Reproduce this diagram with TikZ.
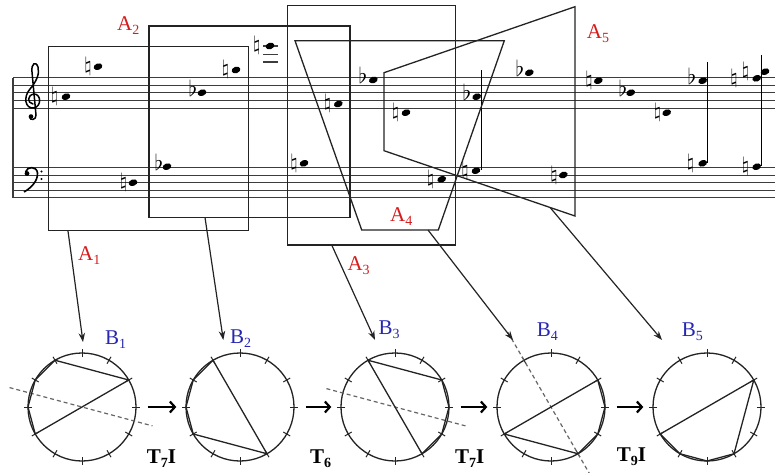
\documentclass[tikz,border=0pt]{standalone}
\usepackage{fontspec}
\usepackage{graphicx}
\setmainfont{Liberation Serif}
\usetikzlibrary{arrows.meta,calc}
\definecolor{labred}{RGB}{214,28,28}
\definecolor{labblue}{RGB}{38,38,178}
\definecolor{inkgray}{RGB}{35,35,35}
\definecolor{stafgray}{RGB}{60,60,60}
\newcommand\lsub[1]{\raisebox{-0.2em}{\fontsize{14}{14}\selectfont #1}}

\begin{document}
\begin{tikzpicture}[x=1pt, y=-1pt,
  staff/.style={stafgray, line width=1.1pt},
  frame/.style={inkgray, line width=1.3pt},
  alab/.style={text=labred, font=\fontsize{21}{21}\selectfont, inner sep=0pt, anchor=base west},
  blab/.style={text=labblue, font=\fontsize{21}{21}\selectfont, inner sep=0pt, anchor=base west},
  tlab/.style={font=\fontsize{21}{21}\selectfont\bfseries, inner sep=0pt, anchor=base west},
  ring/.style={draw=inkgray, circle, minimum size=108pt, inner sep=0pt, line width=1.3pt},
  rimtick/.style={inkgray, line width=1pt},
  chord/.style={inkgray, line width=1.3pt, line join=round},
  mirror/.style={gray!80!black, line width=1.2pt, dash pattern=on 4pt off 3pt},
  arr/.style={-{Stealth[length=9pt,width=6.5pt]}, inkgray, line width=1.2pt},
  hop/.style={-{Straight Barb[length=5pt,width=11pt]}, black, line width=2.2pt},
  nat/.style={inner sep=0pt},
  flt/.style={inner sep=0pt, anchor=base},
  stem/.style={black, line width=1pt}
]
\useasboundingbox (0,0) rectangle (775,473);

\foreach \sy in {77.7,85.3,92.9,100.5,108.1} \draw[staff] (13,\sy) -- (775,\sy);
\foreach \sy in {167.7,175.2,182.7,190.2,197.7} \draw[staff] (13,\sy) -- (775,\sy);
\draw[staff] (13,77.7) -- (13,197.7);
\foreach \ly in {46,54.3,62} \draw[staff] (263,\ly) -- (278,\ly);

\draw[line width=1.5pt, line cap=round] (33,104) .. controls (27,103) and (27,95) .. (34,94) .. controls (41,94) and (42,106) .. (34,108) .. controls (25,109) and (23,97) .. (30,89) .. controls (36,82) and (40,74) .. (38,67) .. controls (36,61) and (31,63) .. (32,72) -- (36,115) .. controls (36.5,120) and (30,121) .. (29.5,117);
\fill (31,116.5) circle[radius=2.3pt];
\fill (27,173.5) circle[radius=2.4pt];
\draw[line width=1.6pt] (25.5,172) .. controls (27,166) and (37,166) .. (37.5,173) .. controls (38,181) and (31,188) .. (24,192);
\fill (41.5,171.5) circle[radius=1.2pt];
\fill (41.5,179) circle[radius=1.2pt];

\foreach \nx/\ny/\ax [count=\j] in {66/96.7/54.5, 98/66.7/88, 236/70/225.5, 270/46/256.7, 338.3/104/327.5, 406/112.7/395.5, 598.3/80.7/589, 666.7/112.7/657.5, 756.7/78.3/734, 765/71.7/745.5, 133/182.7/123.5, 304/163.3/294, 441.7/179.3/430.5, 476/170.7/465, 563.3/175/554, 702.7/163.3/690.5, 756.7/166.7/745.5} {
  \fill[rotate around={20:(\nx,\ny)}] (\nx,\ny) ellipse [x radius=4.5pt, y radius=3.2pt];
  \node[nat] (nat\j) at (\ax,\ny) {\scalebox{2}{$\natural$}};
}
\foreach \nx/\ny/\ax [count=\j] in {202/92.7/193, 373.3/80/363, 476.7/96.7/467, 529.3/72.7/520, 630.7/92.7/623, 702.7/80.7/692, 167/166.7/159} {
  \fill[rotate around={20:(\nx,\ny)}] (\nx,\ny) ellipse [x radius=4.5pt, y radius=3.2pt];
  \node[flt] (flt\j) at (\ax,\ny+3.5) {\scalebox{2.2}{$\flat$}};
}
\draw[stem] (481,70) -- (481,170);
\draw[stem] (707,62) -- (707,163);
\draw[stem] (761.5,55) -- (761.5,166);

\draw[frame] (48.3,46.7) rectangle (248.3,230.7);
\draw[frame] (149,26) rectangle (350,217.3);
\draw[frame] (287.3,5.7) rectangle (455.7,245);
\draw[frame] (295,40.7) -- (504.3,40.7) -- (438.3,230) -- (361.7,230) -- cycle;
\draw[frame] (384,72.7) -- (575,6.7) -- (575,216) -- (384,150.7) -- cycle;

\node[alab] (lA1) at (78,260.7) {A\lsub{1}};
\node[alab] (lA2) at (117,30.7) {A\lsub{2}};
\node[alab] (lA3) at (347.3,270) {A\lsub{3}};
\node[alab] (lA4) at (390,221.7) {A\lsub{4}};
\node[alab] (lA5) at (586.7,38.3) {A\lsub{5}};

\foreach \cx [count=\i] in {82,240,395,551,707} {
  \node[ring] (c\i) at (\cx,407) {};
  \foreach \k in {0,...,11} {
    \coordinate (c\i p\k) at ($(c\i)+(30*\k-90:54)$);
    \draw[rimtick] ($(c\i)+(30*\k-90:50)$) -- ($(c\i)+(30*\k-90:58)$);
  }
}

\node[blab] (lB1) at (105,344) {B\lsub{1}};
\node[blab] (lB2) at (230,343.3) {B\lsub{2}};
\node[blab] (lB3) at (378.3,334.3) {B\lsub{3}};
\node[blab] (lB4) at (536.7,336.7) {B\lsub{4}};
\node[blab] (lB5) at (681.7,336.7) {B\lsub{5}};

\draw[mirror] ($(c1)+(195:75)$) -- ($(c1)+(15:73)$);
\draw[mirror] ($(c3)+(195:71)$) -- ($(c3)+(15:74)$);
\draw[mirror] ($(c4)+(240:86)$) -- ($(c4)+(60:78)$);

\draw[chord] (c1p2) -- (c1p8) -- (c1p9) -- (c1p10) -- (c1p11) -- cycle;
\draw[chord] (c2p5) -- (c2p8) -- (c2p9) -- (c2p10) -- (c2p11) -- cycle;
\draw[chord] (c3p11) -- (c3p2) -- (c3p3) -- (c3p4) -- (c3p5) -- cycle;
\draw[chord] (c4p8) -- (c4p2) -- (c4p3) -- (c4p4) -- (c4p5) -- cycle;
\draw[chord] (c5p2) -- (c5p5) -- (c5p6) -- (c5p7) -- (c5p8) -- cycle;

\draw[hop, shorten <=11pt, shorten >=9pt] (c1.east) -- (c2.west);
\draw[hop, shorten <=11pt, shorten >=9pt] (c2.east) -- (c3.west);
\draw[hop, shorten <=11pt, shorten >=9pt] (c3.east) -- (c4.west);
\draw[hop, shorten <=11pt, shorten >=9pt] (c4.east) -- (c5.west);

\node[tlab] (t12) at (146.7,463.3) {T\lsub{7}I};
\node[tlab] (t23) at (310,463) {T\lsub{6}};
\node[tlab] (t34) at (455,463) {T\lsub{7}I};
\node[tlab] (t45) at (616.7,461.7) {T\lsub{9}I};

\coordinate (a1) at (68,231);
\coordinate (e1) at (83,342);
\coordinate (a2) at (205,217.5);
\coordinate (e2) at (223.3,340);
\coordinate (a3) at (331.7,245);
\coordinate (e3) at (375,340);
\coordinate (a4) at (428,230);
\coordinate (e4) at (513,340);
\coordinate (a5) at (550,207.4);
\coordinate (e5) at (662,340);
\draw[arr] (a1) -- (e1);
\draw[arr] (a2) -- (e2);
\draw[arr] (a3) -- (e3);
\draw[arr] (a4) -- (e4);
\draw[arr] (a5) -- (e5);
\end{tikzpicture}
\end{document}
